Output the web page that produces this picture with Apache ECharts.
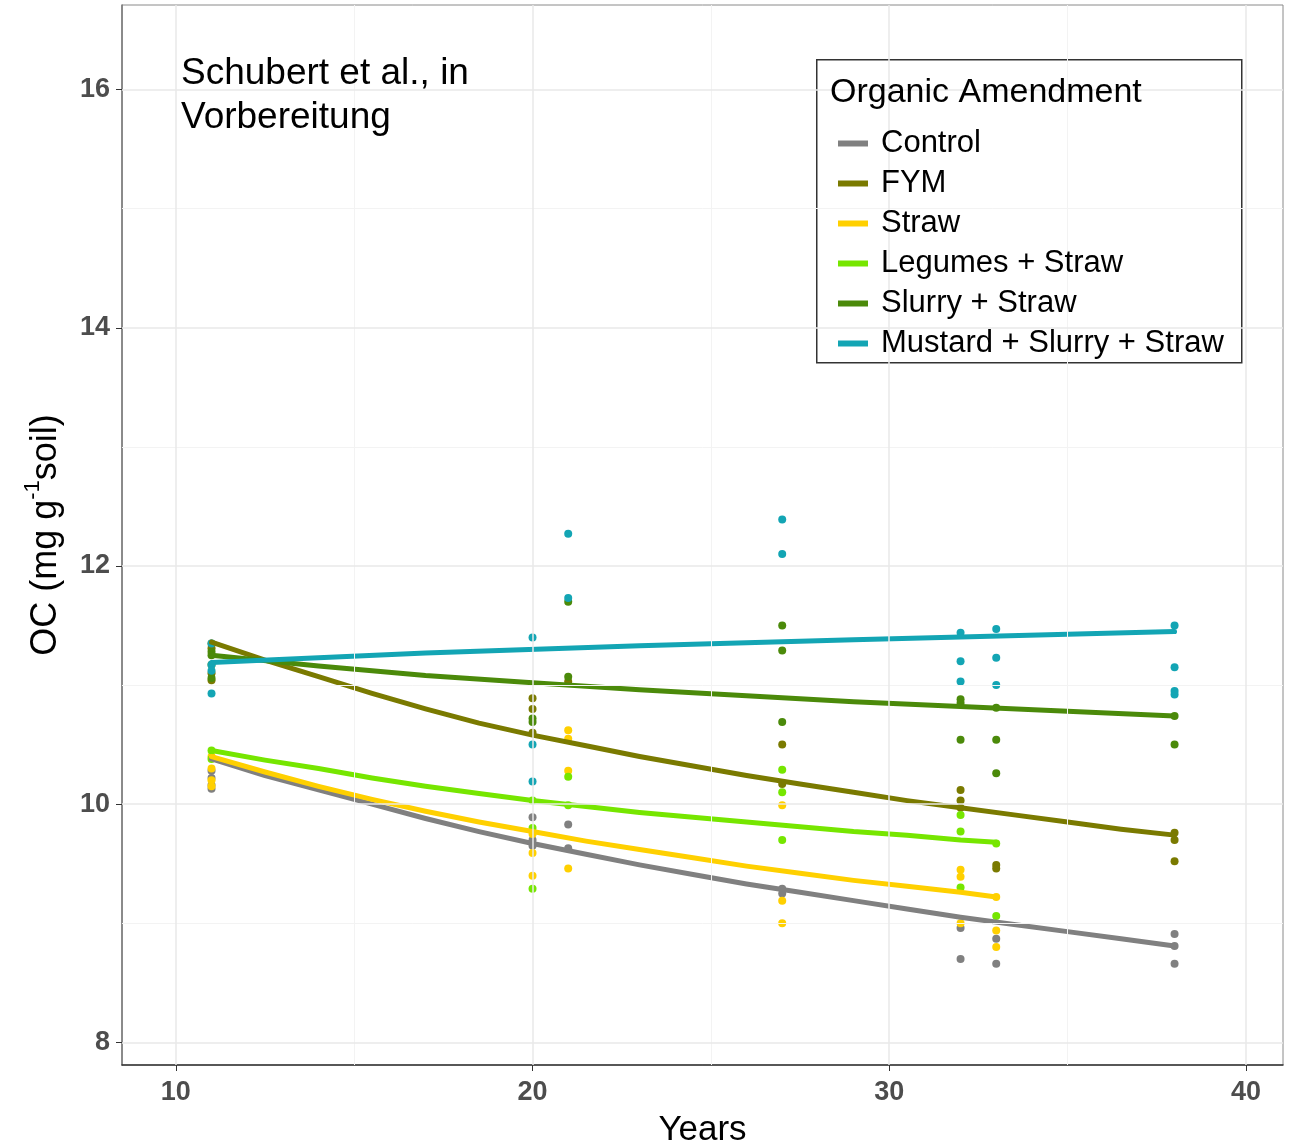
<!DOCTYPE html>
<html><head><meta charset="utf-8">
<script src="https://cdn.jsdelivr.net/npm/echarts@6/dist/echarts.min.js"></script>
<style>html,body{margin:0;padding:0;background:#fff}#c{width:1301px;height:1145px}</style>
</head><body><div id="c"></div>
<script>
// ---- data ----
const seriesNames = ['Control','FYM','Straw','Legumes + Straw','Slurry + Straw','Mustard + Slurry + Straw'];
const seriesColors = ['#808080','#7a7a00','#ffd000','#76e600','#4b8a0a','#13a5b4'];
const xTickValues = [10,20,30,40];
const xMinorValues = [15,25,35];
const yTickValues = [8,10,12,14,16];
const yMinorValues = [9,11,13,15];

// observed points [year, OC]
const controlPts = [[11,10.28],[11,10.22],[11,10.16],[11,10.13],[20,9.89],[20,9.70],[20,9.65],[21,9.83],[21,9.63],[27,9.29],[27,9.25],[32,8.96],[32,8.70],[33,8.87],[33,8.66],[38,8.91],[38,8.81],[38,8.66]];
const fymPts = [[11,11.35],[11,11.31],[11,11.10],[11,11.04],[20,10.89],[20,10.80],[20,10.60],[21,11.03],[27,10.50],[27,10.17],[32,10.12],[32,10.03],[32,9.97],[33,9.49],[33,9.46],[38,9.76],[38,9.70],[38,9.52]];
const strawPts = [[11,10.40],[11,10.30],[11,10.20],[11,10.15],[20,9.75],[20,9.59],[20,9.40],[21,10.62],[21,10.55],[21,10.28],[21,9.46],[27,9.99],[27,9.19],[27,9.00],[32,9.45],[32,9.39],[32,9.00],[33,9.22],[33,8.94],[33,8.80]];
const legumesPts = [[11,10.45],[11,10.38],[20,10.03],[20,9.80],[20,9.29],[21,10.23],[21,9.99],[27,10.29],[27,10.10],[27,9.70],[32,9.91],[32,9.77],[32,9.30],[33,9.67],[33,9.06]];
const slurryPts = [[11,11.28],[11,11.25],[11,11.17],[11,11.06],[20,10.72],[20,10.69],[21,11.70],[21,11.07],[27,11.50],[27,11.29],[27,10.69],[32,10.88],[32,10.85],[32,10.54],[33,10.81],[33,10.54],[33,10.26],[38,10.74],[38,10.50]];
const mustardPts = [[11,11.35],[11,11.17],[11,11.12],[11,10.93],[20,11.40],[20,10.50],[20,10.19],[21,12.27],[21,11.73],[27,12.39],[27,12.10],[32,11.44],[32,11.20],[32,11.03],[33,11.47],[33,11.23],[33,11.00],[38,11.50],[38,11.15],[38,10.95],[38,10.92]];

// fitted curves [year, OC]
const controlFit = [[11,10.38],[12.5,10.24],[14,10.12],[15.5,10.00],[17,9.88],[18.5,9.77],[20,9.67],[21.5,9.58],[23,9.49],[24.5,9.41],[26,9.33],[27.5,9.26],[29,9.19],[30.5,9.12],[32,9.05],[33.5,8.99],[35,8.93],[36.5,8.87],[38,8.81]];
const fymFit = [[11,11.36],[12.5,11.21],[14,11.07],[15.5,10.93],[17,10.80],[18.5,10.68],[20,10.58],[21.5,10.49],[23,10.40],[24.5,10.32],[26,10.24],[27.5,10.17],[29,10.10],[30.5,10.03],[32,9.97],[33.5,9.91],[35,9.85],[36.5,9.79],[38,9.74]];
const strawFit = [[11,10.40],[12.5,10.27],[14,10.15],[15.5,10.04],[17,9.94],[18.5,9.85],[20,9.77],[21.5,9.69],[23,9.62],[24.5,9.55],[26,9.48],[27.5,9.42],[29,9.36],[30.5,9.31],[32,9.26],[33,9.22]];
const legumesFit = [[11,10.45],[12.5,10.37],[14,10.30],[15.5,10.22],[17,10.15],[18.5,10.09],[20,10.03],[21.5,9.98],[23,9.93],[24.5,9.89],[26,9.85],[27.5,9.81],[29,9.77],[30.5,9.74],[32,9.70],[33,9.68]];
const slurryFit = [[11,11.25],[14,11.16],[17,11.08],[20,11.02],[23,10.96],[26,10.91],[29,10.86],[32,10.82],[35,10.78],[38,10.74]];
const mustardFit = [[11,11.19],[17,11.27],[23,11.33],[29,11.38],[38,11.45]];

const allPts = [controlPts,fymPts,strawPts,legumesPts,slurryPts,mustardPts];
const allFits = [controlFit,fymFit,strawFit,legumesFit,slurryFit,mustardFit];

const FONT = "'Liberation Sans', Arial, sans-serif";
const chart = echarts.init(document.getElementById('c'), null, {renderer:'canvas'});

const series = [];
// background grid lines drawn through the axes
series.push({
  type:'line', data:[], silent:true, z:0, animation:false,
  markLine:{
    silent:true, symbol:['none','none'], label:{show:false}, animation:false,
    data: [
      ...yMinorValues.map(v=>({yAxis:v, lineStyle:{color:'#f3f3f3', width:1, type:'solid'}})),
      ...xMinorValues.map(v=>({xAxis:v, lineStyle:{color:'#f3f3f3', width:1, type:'solid'}})),
      ...yTickValues.map(v=>({yAxis:v, lineStyle:{color:'#e8e8e8', width:1.5, type:'solid'}})),
      ...xTickValues.map(v=>({xAxis:v, lineStyle:{color:'#e8e8e8', width:1.5, type:'solid'}}))
    ]
  }
});
seriesNames.forEach((n,i)=>{
  series.push({
    name:n, type:'line', data:allFits[i], smooth:false,
    showSymbol:false, z:4, animation:false,
    lineStyle:{color:seriesColors[i], width:5, join:'round', cap:'round'}, itemStyle:{color:seriesColors[i]}
  });
});
seriesNames.forEach((n,i)=>{
  series.push({
    name:n, type:'scatter', data:allPts[i], symbolSize:8, z:3, animation:false,
    itemStyle:{color:seriesColors[i], opacity:1}
  });
});

chart.setOption({
  backgroundColor:'#fff',
  animation:false,
  textStyle:{fontFamily:FONT},
  grid:{left:122, right:18, top:5, bottom:80, show:true, borderColor:'#8a8a8a', borderWidth:1, containLabel:false, outerBoundsMode:'none'},
  xAxis:{
    type:'value', min:8.49, max:41.04,
    name:'Years', nameLocation:'middle', nameGap:48,
    nameTextStyle:{fontSize:35, color:'#000', fontFamily:FONT},
    axisLine:{show:true, onZero:false, lineStyle:{color:'#333', width:1.5}},
    axisTick:{show:true, customValues:xTickValues, length:6, lineStyle:{color:'#333'}},
    axisLabel:{customValues:xTickValues, fontSize:27, fontWeight:'bold', color:'#4d4d4d', margin:14, fontFamily:FONT},
    splitLine:{show:false}
  },
  yAxis:{
    type:'value', min:7.81, max:16.71,
    name:'{a|OC (mg g}{s|-1}{a|soil)}', nameLocation:'middle', nameGap:58, nameRotate:90,
    nameTextStyle:{fontSize:36, color:'#000', fontFamily:FONT,
      rich:{a:{fontSize:36, color:'#000', fontFamily:FONT, lineHeight:42, verticalAlign:'bottom'},
            s:{fontSize:22, color:'#000', fontFamily:FONT, lineHeight:42, verticalAlign:'top'}}},
    axisLine:{show:true, onZero:false, lineStyle:{color:'#777', width:1.5}},
    axisTick:{show:true, customValues:yTickValues, length:6, lineStyle:{color:'#333'}},
    axisLabel:{customValues:yTickValues, fontSize:27, fontWeight:'bold', color:'#4d4d4d', margin:12, fontFamily:FONT},
    splitLine:{show:false}
  },
  legend:{
    data:seriesNames, orient:'vertical', left:833, top:123,
    itemWidth:30, itemHeight:6, itemGap:9, icon:'rect', selectedMode:false,
    textStyle:{fontSize:31, color:'#000', lineHeight:30, padding:[0,0,0,8], fontFamily:FONT},
    z:6
  },
  graphic:[
    {type:'rect', left:816, top:59, z:5, shape:{width:425, height:303},
     style:{fill:'#fff', stroke:'#333', lineWidth:1.5}},
    {type:'text', left:830, top:76, z:6,
     style:{text:'Organic Amendment', fontSize:34, fill:'#000', fontFamily:FONT}},
    {type:'text', left:181, top:52, z:6,
     style:{text:'Schubert et al., in\nVorbereitung', fontSize:37, lineHeight:44, fill:'#000', fontFamily:FONT}}
  ],
  series:series
});
</script>
</body></html>
